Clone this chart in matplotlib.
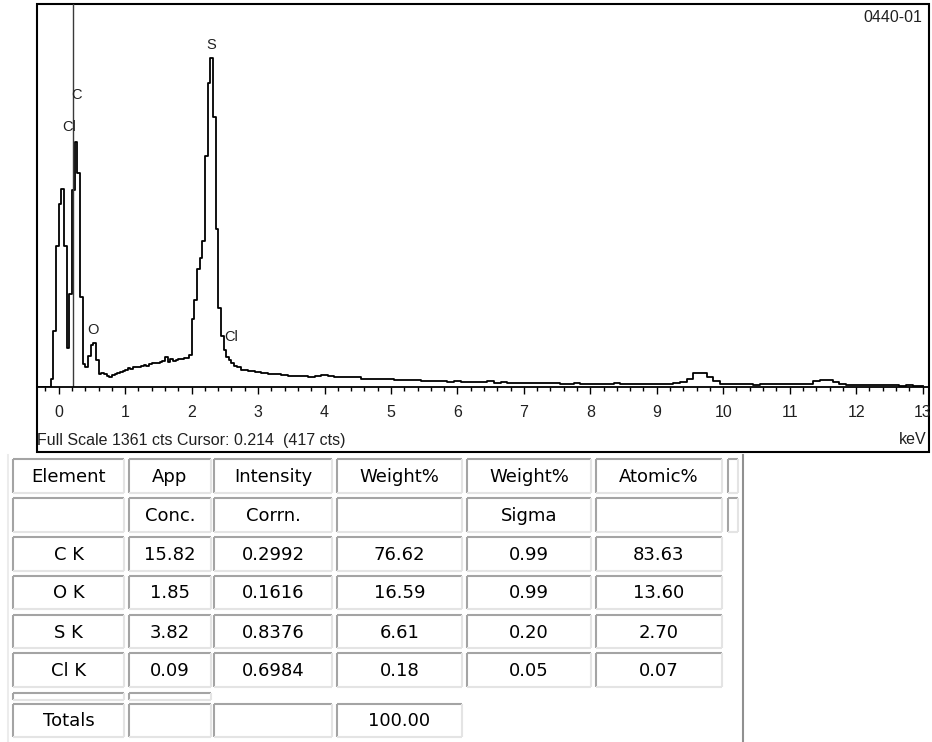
import numpy as np
import matplotlib
matplotlib.use("Agg")
import matplotlib.pyplot as plt

# spectrum counts
# fine channels (0.04 keV) from -0.30 keV
low_start, low_step = -0.30, 0.04
low_counts = [0, 0, 0, 0, 0, 30, 200, 500, 650, 705,
              500, 140, 330, 700, 870, 760, 320, 80, 70, 110,
              150, 155, 95, 45, 48, 46, 40, 36, 42, 45,
              50, 55, 58, 62, 66, 64, 70, 72, 70, 76,
              78, 75, 82, 84, 86, 84, 90, 92, 108, 90,
              98, 94, 96, 100, 98, 102, 104, 115, 240, 310,
              420, 460, 520, 820, 1080, 1170, 960, 560, 280, 180,
              130, 108, 95, 85, 75]
# coarse channels (0.1 keV) from 2.70 keV
high_start, high_step = 2.70, 0.1
high_counts = [70, 62, 58, 52, 50, 47, 45, 44, 40, 38,
               39, 36, 38, 42, 38, 36, 35, 37, 34, 30,
               29, 30, 28, 30, 25, 25, 24, 24, 22, 23,
               20, 22, 19, 20, 17, 18, 19, 18, 20, 15,
               16, 14, 15, 14, 15, 13, 14, 13, 14, 12,
               12, 13, 10, 12, 11, 9, 12, 13, 12, 11,
               12, 11, 12, 10, 11, 12, 13, 18, 30, 48,
               50, 35, 20, 10, 9, 10, 9, 10, 8, 9,
               9, 10, 9, 9, 10, 10, 12, 22, 26, 24,
               16, 10, 8, 7, 7, 6, 7, 6, 6, 6,
               5, 6, 5, 5]

peak_labels = ["S", "C", "Cl", "O", "Cl"]
peak_kev = [2.30, 0.27, 0.155, 0.515, 2.60]
peak_cts = [1215, 1038, 924, 203, 179]

full_scale = 1361
cursor_kev = 0.214
cursor_cts = 417

# table
header1 = ["Element", "App", "Intensity", "Weight%", "Weight%", "Atomic%"]
header2 = ["", "Conc.", "Corrn.", "", "Sigma", ""]
elements = ["C K", "O K", "S K", "Cl K"]
app_conc = ["15.82", "1.85", "3.82", "0.09"]
intensity = ["0.2992", "0.1616", "0.8376", "0.6984"]
weight = ["76.62", "16.59", "6.61", "0.18"]
sigma = ["0.99", "0.99", "0.20", "0.05"]
atomic = ["83.63", "13.60", "2.70", "0.07"]
totals = ["Totals", "", "", "100.00"]

W, H = 932, 742
fig = plt.figure(figsize=(W / 100, H / 100), dpi=100)

# overlay in pixel coords for frame and table
ov = fig.add_axes([0, 0, 1, 1])
ov.set_xlim(0, W)
ov.set_ylim(H, 0)
ov.axis("off")

# spectrum axes: bottom edge is the baseline
ax = fig.add_axes([37 / W, 1 - 387 / H, 892 / W, 383 / H])
ax.patch.set_alpha(0)

energies = np.concatenate([low_start + low_step * np.arange(len(low_counts)),
                           high_start + high_step * np.arange(len(high_counts))])
counts = np.array(low_counts + high_counts)
ax.step(energies, counts, where="mid", color="black", lw=1.3)
ax.axvline(cursor_kev, color="#3a3a3a", lw=1.0)

for lab, xk, yc in zip(peak_labels, peak_kev, peak_cts):
    ax.text(xk, yc, lab, ha="center", va="center", fontsize=10.5,
            family="Liberation Sans", color="#202020")

ax.set_xlim(-0.327, 13.097)
ax.set_ylim(0, full_scale)
for s in ["top", "left", "right"]:
    ax.spines[s].set_visible(False)
ax.spines["bottom"].set_linewidth(1.3)
ax.set_yticks([])
ax.set_xticks(np.arange(0, 14))
ax.set_xticks(np.arange(-0.2, 13.1, 0.2), minor=True)
ax.tick_params(axis="x", which="major", direction="out", length=5, width=1,
               pad=8, labelsize=11.5, labelcolor="#202020")
ax.tick_params(axis="x", which="minor", direction="out", length=3, width=1)
for t in ax.get_xticklabels():
    t.set_family("Liberation Sans")

# chart frame
ov.add_patch(plt.Rectangle((37, 4), 892, 448, fill=False, ec="black", lw=1.5))
ov.text(37, 440, "Full Scale %d cts Cursor: %.3f  (%d cts)" % (full_scale, cursor_kev, cursor_cts),
        ha="left", va="center", fontsize=11.5, family="Liberation Sans", color="#202020")
ov.text(927, 439, "keV", ha="right", va="center", fontsize=11.5,
        family="Liberation Sans", color="#202020")
ov.text(922, 18, "0440-01", ha="right", va="center", fontsize=11.5,
        family="Liberation Sans", color="#202020")

# table cells
col_x = [(13, 124), (129, 211), (214, 332), (337, 462), (467, 591), (596, 722)]
row_y = [(459, 493), (498, 532), (537, 571), (576, 609), (615, 648), (653, 687)]
thin_row = (693, 700)
tot_row = (704, 737)
small_col = (728, 738)

dark, light = "#a4a4a4", "#e4e4e4"


def cell(x0, x1, y0, y1, text=""):
    ov.plot([x0, x1], [y0, y0], color=dark, lw=1.5, solid_capstyle="butt")
    ov.plot([x0, x0], [y0, y1], color=dark, lw=1.5, solid_capstyle="butt")
    ov.plot([x0, x1], [y1, y1], color=light, lw=1.5, solid_capstyle="butt")
    ov.plot([x1, x1], [y0, y1], color=light, lw=1.5, solid_capstyle="butt")
    if text:
        ov.text((x0 + x1) / 2, (y0 + y1) / 2 + 1, text, ha="center", va="center",
                fontsize=13, family="DejaVu Sans", color="black")


rows = [header1, header2] + [list(r) for r in zip(elements, app_conc, intensity,
                                                   weight, sigma, atomic)]
for (y0, y1), row in zip(row_y, rows):
    for (x0, x1), txt in zip(col_x, row):
        cell(x0, x1, y0, y1, txt)
for (y0, y1) in row_y[:2]:
    cell(small_col[0], small_col[1], y0, y1)
for (x0, x1) in col_x[:2]:
    cell(x0, x1, thin_row[0], thin_row[1])
for (x0, x1), txt in zip(col_x[:4], totals):
    cell(x0, x1, tot_row[0], tot_row[1], txt)

ov.plot([743, 743], [455, 742], color="#909090", lw=1.5)
ov.plot([8, 8], [455, 742], color="#ececec", lw=1.5)

fig.savefig("out.png", dpi=100)
